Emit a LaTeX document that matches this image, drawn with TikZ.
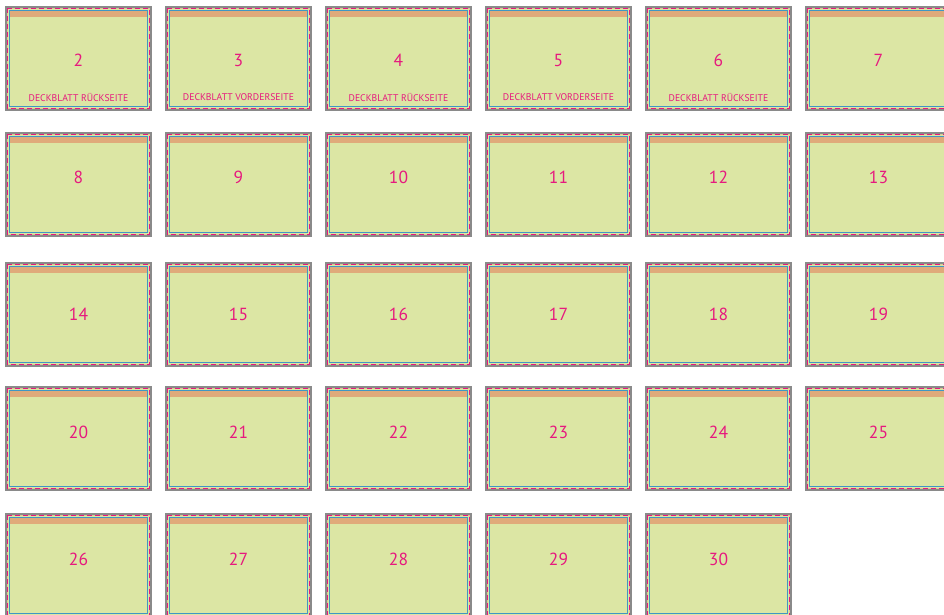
\documentclass[tikz,border=0pt]{standalone}
\usepackage{fontspec}
\setmainfont{PT Sans}
\definecolor{pagegreen}{HTML}{DCE6A4}
\definecolor{bandorange}{HTML}{E0AA7A}
\definecolor{outergray}{HTML}{8A8A8A}
\definecolor{bleedpink}{HTML}{E6197E}
\definecolor{tanline}{HTML}{D8CC92}
\definecolor{marginblue}{HTML}{3F97C4}
\definecolor{numpink}{HTML}{E6197E}
\tikzset{
  numtext/.style={text=numpink, font=\fontsize{17.5}{17.5}\selectfont, inner sep=0pt, anchor=center},
  subtext/.style={text=numpink, font=\fontsize{9.7}{9.7}\selectfont, inner sep=0pt, anchor=center},
  bleedline/.style={bleedpink, line width=1.4pt, dash pattern=on 5pt off 3pt},
  tanstroke/.style={tanline, line width=1.4pt},
  marginline/.style={marginblue, line width=0.9pt},
  outerline/.style={outergray, line width=1.6pt}
}
\newcommand\drawsheet[5]{%
  \fill[pagegreen] (#1,#2) rectangle ++(147,105);
  \fill[bandorange] (#1+4,#2+4.5) rectangle (#1+143,#2+11);
  \draw[tanstroke] (#1+2.4,#2+2.4) rectangle (#1+144.6,#2+102.6);
  \draw[bleedline] (#1+2.4,#2+2.4) rectangle (#1+144.6,#2+102.6);
  \draw[marginline] (#1+4.2,#2+4.2) rectangle (#1+142.8,#2+100.8);
  \draw[outerline] (#1+0.8,#2+0.8) rectangle (#1+146.2,#2+104.2);
  \node[numtext] (n#4) at (#1+73.5,#3) {#4};
}
\begin{document}
\begin{tikzpicture}[x=1pt,y=-1pt]
\useasboundingbox (0,0) rectangle (944,615);
\clip (0,0) rectangle (944,615);
\fill[white] (0,0) rectangle (944,615);
% row 1
\foreach \c/\n in {0/2,1/3,2/4,3/5,4/6,5/7}{
  \drawsheet{5+160*\c}{6}{60}{\n}{}
}
\node[subtext] (s2) at (78.5,97) {DECKBLATT RÜCKSEITE};
\node[subtext] (s3) at (238.5,97) {DECKBLATT VORDERSEITE};
\node[subtext] (s4) at (398.5,97) {DECKBLATT RÜCKSEITE};
\node[subtext] (s5) at (558.5,97) {DECKBLATT VORDERSEITE};
\node[subtext] (s6) at (718.5,97) {DECKBLATT RÜCKSEITE};
% row 2
\foreach \c/\n in {0/8,1/9,2/10,3/11,4/12,5/13}{
  \drawsheet{5+160*\c}{132}{177}{\n}{}
}
% row 3
\foreach \c/\n in {0/14,1/15,2/16,3/17,4/18,5/19}{
  \drawsheet{5+160*\c}{262}{314}{\n}{}
}
% row 4
\foreach \c/\n in {0/20,1/21,2/22,3/23,4/24,5/25}{
  \drawsheet{5+160*\c}{386}{432}{\n}{}
}
% row 5
\foreach \c/\n in {0/26,1/27,2/28,3/29,4/30}{
  \drawsheet{5+160*\c}{513}{559}{\n}{}
}
\end{tikzpicture}
\end{document}
